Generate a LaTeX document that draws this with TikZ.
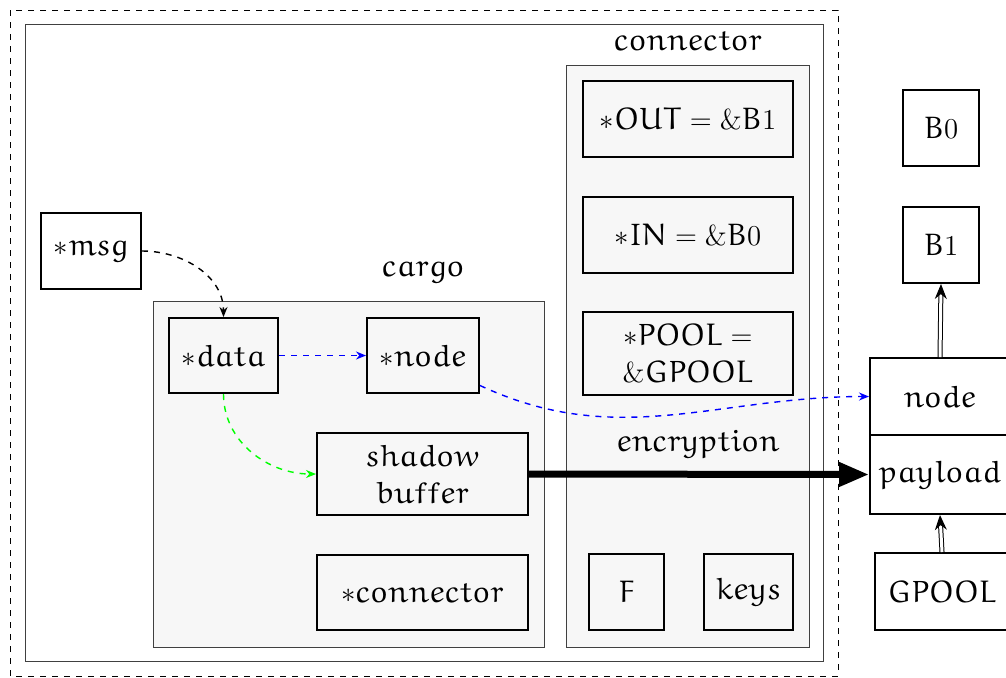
\documentclass[tikz,border=0pt]{standalone}
\usetikzlibrary{arrows.meta}
% Euler letters for math, roman lining digits
\DeclareSymbolFont{letters}{U}{eur}{m}{n}
\SetSymbolFont{letters}{bold}{U}{eur}{b}{n}
\DeclareMathSymbol{0}{\mathalpha}{operators}{`0}
\DeclareMathSymbol{1}{\mathalpha}{operators}{`1}
\begin{document}
\begin{tikzpicture}[x=0.5pt,y=-0.5pt,
  every node/.style={font=\fontsize{15.5}{18.5}\selectfont},
  box/.style={draw, line width=1pt, inner sep=0pt, align=center},
  frame/.style={draw=black!75, line width=0.5pt},
  pane/.style={frame, fill=black!3},
  lbl/.style={inner sep=0pt},
  link/.style={dashed, line width=0.7pt, -{Stealth[length=5pt,width=4pt]}},
  dbl/.style={double, double distance=1.5pt, line width=0.5pt, -{Stealth[length=7.5pt,width=6pt]}}]
\useasboundingbox (0,0) rectangle (1006,677);

% outer boundaries
\draw[dashed, line width=0.5pt] (10,10) rectangle (838,676);
\draw[frame] (25,24) rectangle (823,661);

% containers
\draw[pane] (153,301) rectangle (544,647);
\node[lbl] (cargolbl) at (423,272) {$cargo$};
\draw[pane] (566,65) rectangle (809,647);
\node[lbl] (connlbl) at (688,41) {$connector$};
\node[lbl] (enclbl) at (698,444) {$encryption$};

% connector fields
\node[box, minimum width=105pt, minimum height=38pt] (out) at (688,119) {${*}OUT = \&B1$};
\node[box, minimum width=105pt, minimum height=38pt] (in) at (688,234.5) {${*}IN = \&B0$};
\node[box, minimum width=105pt, minimum height=41.5pt] (pool) at (688,353.5) {${*}POOL =$\\$\&GPOOL$};
\node[box, minimum width=37.5pt, minimum height=38pt] (f) at (626.5,592) {$F$};
\node[box, minimum width=44.5pt, minimum height=38pt] (keys) at (748.5,592) {$keys$};

% cargo fields
\node[box, fill=white, minimum width=50pt, minimum height=38pt] (msg) at (91,251) {${*}msg$};
\node[box, minimum width=54.5pt, minimum height=37.5pt] (data) at (223.5,355.5) {${*}data$};
\node[box, minimum width=56pt, minimum height=37.5pt] (nodep) at (423,355.5) {${*}node$};
\node[box, minimum width=105.5pt, minimum height=41pt] (shadow) at (422.5,474) {$shadow$\\$buffer$};
\node[box, minimum width=105.5pt, minimum height=37.5pt] (connp) at (422.5,592.5) {${*}connector$};

% external objects
\node[box, minimum width=38pt, minimum height=38pt] (b0) at (941,128) {$B0$};
\node[box, minimum width=38pt, minimum height=38pt] (b1) at (941,245) {$B1$};
\node[box, minimum width=70pt, minimum height=38.5pt] (node) at (940,396.5) {$node$};
\node[box, minimum width=70pt, minimum height=39.5pt] (payload) at (940,474.5) {$payload$};
\node[box, minimum width=67pt, minimum height=38.5pt] (gpool) at (942,591.5) {$GPOOL$};

% pointers
\draw[link] (msg.east) to[out=0,in=90] (data.north);
\draw[link, color=blue] (data.east) -- (nodep.west);
\draw[link, color=blue] (nodep.east) ++(0,30) coordinate (np) (np) to[out=-25,in=180] (node.west);
\draw[link, color=green] (data.south) to[out=-90,in=180] (shadow.west);
\draw[line width=3.5pt, -{Triangle[length=15pt,width=11.5pt]}] (shadow.east) -- (payload.west);
\draw[dbl] (node.north) -- (b1.south);
\draw[dbl] (gpool.north) -- (payload.south);
\end{tikzpicture}
\end{document}
